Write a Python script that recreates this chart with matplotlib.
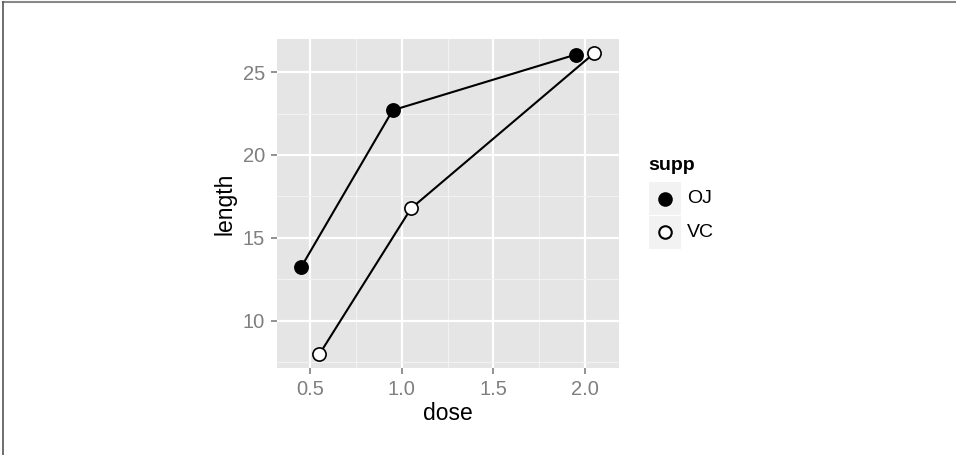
import numpy as np
import matplotlib.pyplot as plt
from matplotlib.lines import Line2D
from matplotlib.patches import Rectangle

plt.rcParams['font.family'] = ['Liberation Sans', 'DejaVu Sans']

# ToothGrowth summary: mean length by supp and dose
dose = [0.5, 1.0, 2.0]
oj_len = [13.23, 22.70, 26.06]
vc_len = [7.98, 16.77, 26.14]
supp = ['OJ', 'VC']
fills = ['black', 'white']
dodge = 0.05

W, H = 956, 455
fig = plt.figure(figsize=(W / 100, H / 100), dpi=100)
ax = fig.add_axes([277 / W, 1 - 368 / H, 342 / W, 329 / H])
ax.set_facecolor('#E5E5E5')

x = np.array(dose)
for off, vals, fc in [(-dodge, oj_len, fills[0]), (dodge, vc_len, fills[1])]:
    ax.plot(x + off, vals, color='black', lw=1.5, marker='o', ms=9.5,
            mfc=fc, mec='black', mew=1.2, zorder=3)

ax.set_xlim(0.318, 2.186)
ax.set_ylim(7.14, 27.0)
ax.set_xticks([0.5, 1.0, 1.5, 2.0])
ax.set_xticklabels(['0.5', '1.0', '1.5', '2.0'])
ax.set_yticks([10, 15, 20, 25])
ax.set_xticks([0.75, 1.25, 1.75], minor=True)
ax.set_yticks([7.5, 12.5, 17.5, 22.5], minor=True)

ax.grid(which='major', color='white', lw=1.6)
ax.grid(which='minor', color='#F2F2F2', lw=0.8)
ax.set_axisbelow(True)
for s in ax.spines.values():
    s.set_visible(False)
ax.tick_params(which='major', length=4.5, width=1.2, color='#7F7F7F',
               labelcolor='#7F7F7F', labelsize=14.5, pad=4)
ax.tick_params(which='minor', length=0)

ax.set_xlabel('dose', fontsize=16.5, labelpad=2)
ax.set_ylabel('length', fontsize=16.5, labelpad=5)

# legend drawn by hand, ggplot style
fig.text(648 / W, 1 - 166 / H, 'supp', fontsize=14, fontweight='bold',
         ha='left', va='center')
for i, (lab, fc) in enumerate(zip(supp, fills)):
    top = 182 + 34 * i
    fig.add_artist(Rectangle((649 / W, 1 - (top + 33) / H), 32 / W, 33 / H,
                             transform=fig.transFigure, color='#F2F2F2', lw=0))
    yc = 1 - (top + 16.5) / H
    fig.add_artist(Line2D([665 / W], [yc], ls='none', marker='o', ms=9,
                          mfc=fc, mec='black', mew=1.5))
    fig.text(687 / W, yc, lab, fontsize=14, ha='left', va='center')

# frame lines at top and left
fig.add_artist(Line2D([3 / W, 1], [1 - 1.5 / H] * 2, color='#888888', lw=1.5))
fig.add_artist(Line2D([3 / W] * 2, [0, 1 - 1.5 / H], color='#555555', lw=1.2))

fig.savefig('out.png', dpi=100)
